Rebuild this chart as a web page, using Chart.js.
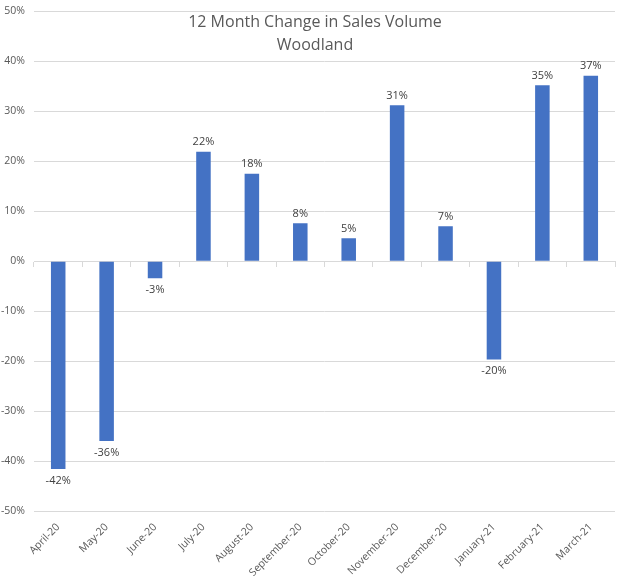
<!DOCTYPE html>
<html>
<head>
<meta charset="utf-8">
<script src="https://cdn.jsdelivr.net/npm/chart.js@4/dist/chart.umd.min.js"></script>
<style>
  html, body { margin: 0; padding: 0; background: #fff; overflow: hidden; }
  #wrap { width: 625px; height: 580px; margin-top: -4px; }
</style>
</head>
<body>
<div id="wrap"><canvas id="salesChart"></canvas></div>
<script>
// chart data
const months = ['April-20', 'May-20', 'June-20', 'July-20', 'August-20', 'September-20',
    'October-20', 'November-20', 'December-20', 'January-21', 'February-21', 'March-21'];
const changePct = [-41.6, -36.0, -3.4, 21.9, 17.5, 7.6, 4.6, 31.2, 7.0, -19.7, 35.2, 37.1];
const titleLines = ['12 Month Change in Sales Volume', 'Woodland'];

const fontFamily = '"Open Sans", "Liberation Sans", sans-serif';

// draws the percent label above / below each bar
const barLabels = {
    id: 'barLabels',
    afterDatasetsDraw(chart) {
        const ctx = chart.ctx;
        const meta = chart.getDatasetMeta(0);
        ctx.save();
        ctx.font = '11px ' + fontFamily;
        ctx.fillStyle = '#404040';
        ctx.textAlign = 'center';
        meta.data.forEach((bar, i) => {
            const v = changePct[i];
            const txt = Math.round(v) + '%';
            if (v >= 0) {
                ctx.textBaseline = 'bottom';
                ctx.fillText(txt, bar.x, bar.y - 4);
            } else {
                ctx.textBaseline = 'top';
                ctx.fillText(txt, bar.x, bar.y + 6);
            }
        });
        ctx.restore();
    }
};

// title sits inside the plot area, like the original
const innerTitle = {
    id: 'innerTitle',
    afterDraw(chart) {
        const ctx = chart.ctx;
        ctx.save();
        ctx.font = '16px ' + fontFamily;
        ctx.fillStyle = '#595959';
        ctx.textAlign = 'center';
        ctx.textBaseline = 'middle';
        ctx.fillText(titleLines[0], 315, 26);
        ctx.fillText(titleLines[1], 315, 49);
        ctx.restore();
    }
};

const ctx = document.getElementById('salesChart').getContext('2d');
const salesChart = new Chart(ctx, {
    type: 'bar',
    data: {
        labels: months,
        datasets: [{
            label: '12 Month Change',
            data: changePct,
            backgroundColor: '#4472C4',
            borderWidth: 0,
            barPercentage: 0.3,
            categoryPercentage: 1.0
        }]
    },
    options: {
        responsive: true,
        maintainAspectRatio: false,
        animation: false,
        layout: { padding: { top: 1, right: 10, left: 0, bottom: 0 } },
        plugins: {
            legend: { display: false },
            tooltip: { enabled: false },
            title: { display: false }
        },
        scales: {
            x: {
                grid: { display: false },
                border: { display: false },
                afterFit(scale) { scale.height = 65; },
                ticks: {
                    color: '#595959',
                    font: { family: fontFamily, size: 10.5 },
                    maxRotation: 45,
                    minRotation: 45,
                    autoSkip: false,
                    padding: 2
                }
            },
            // zero axis line with tick marks between categories
            x0: {
                type: 'category',
                labels: months,
                position: { y: 0 },
                grid: {
                    drawOnChartArea: false,
                    drawTicks: true,
                    tickLength: 5,
                    offset: true,
                    color: '#d9d9d9'
                },
                border: { display: true, color: '#d9d9d9' },
                ticks: { display: false }
            },
            y: {
                min: -50,
                max: 50,
                grid: { color: '#d9d9d9', drawTicks: false },
                border: { display: false },
                afterFit(scale) { scale.width = 34; },
                ticks: {
                    stepSize: 10,
                    color: '#595959',
                    padding: 9,
                    font: { family: fontFamily, size: 10.5 },
                    callback: v => v + '%'
                }
            }
        }
    },
    plugins: [barLabels, innerTitle]
});
</script>
</body>
</html>
